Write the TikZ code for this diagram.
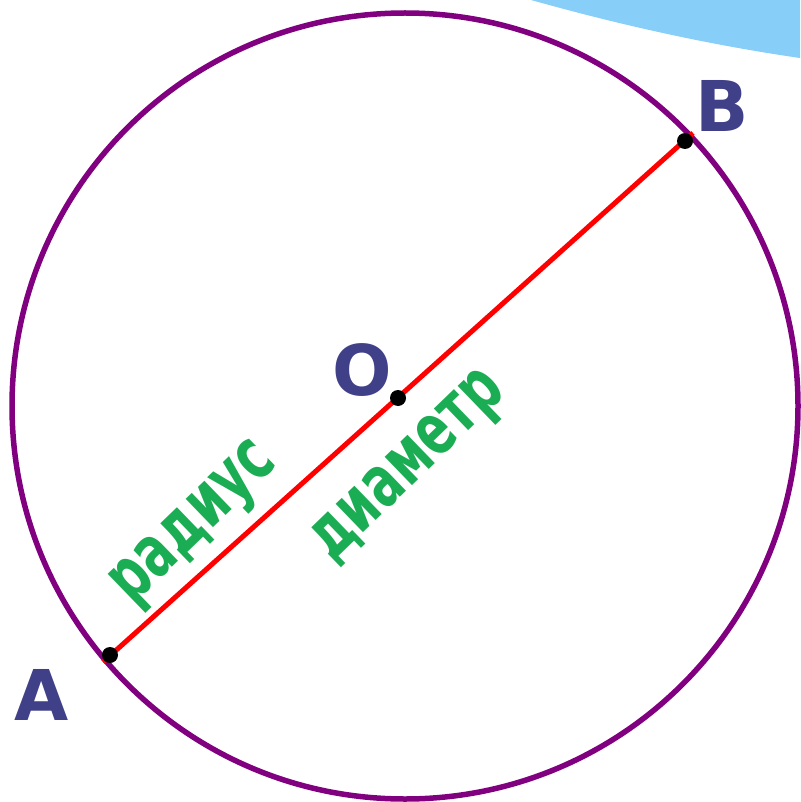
\documentclass[tikz,border=0pt]{standalone}
\usepackage{fontspec}
\setmainfont{DejaVu Sans}
\begin{document}
\begin{tikzpicture}[x=1pt,y=-1pt,
  letter/.style={text=labelblue,font=\fontsize{70}{70}\selectfont\bfseries,inner sep=0pt},
  word/.style={text=wordgreen,font=\fontsize{72}{72}\selectfont\bfseries,inner sep=0pt},
  pt/.style={circle,fill=black,minimum size=16pt,inner sep=0pt}]
\definecolor{labelblue}{RGB}{64,64,136}
\definecolor{wordgreen}{RGB}{27,173,84}
\definecolor{ring}{RGB}{128,0,128}
\definecolor{sky}{RGB}{135,206,248}
\useasboundingbox (0,0) rectangle (800,802);
\fill[sky] (531,0) .. controls (620,25) and (710,45) .. (800,58) -- (800,0) -- cycle;
\node[circle,draw=ring,line width=5.5pt,minimum size=786pt,inner sep=0pt] (circ) at (405,406) {};
\coordinate (e1) at (103,662);
\coordinate (e2) at (693,133);
\draw[red,line width=5pt] (e1) -- (e2);
\node[pt] (A) at (110,655) {};
\node[pt] (B) at (685,141) {};
\node[pt] (O) at (398,398) {};
\node[letter] (la) at (42,695) {A};
\node[letter] (lb) at (722,106) {B};
\node[letter] (lo) at (362,370) {O};
\node[word,rotate=44] (rad) at (197,526) {\scalebox{0.68}[1]{радиус}};
\node[word,rotate=44] (dia) at (411,469) {\scalebox{0.68}[1]{диаметр}};
\end{tikzpicture}
\end{document}
